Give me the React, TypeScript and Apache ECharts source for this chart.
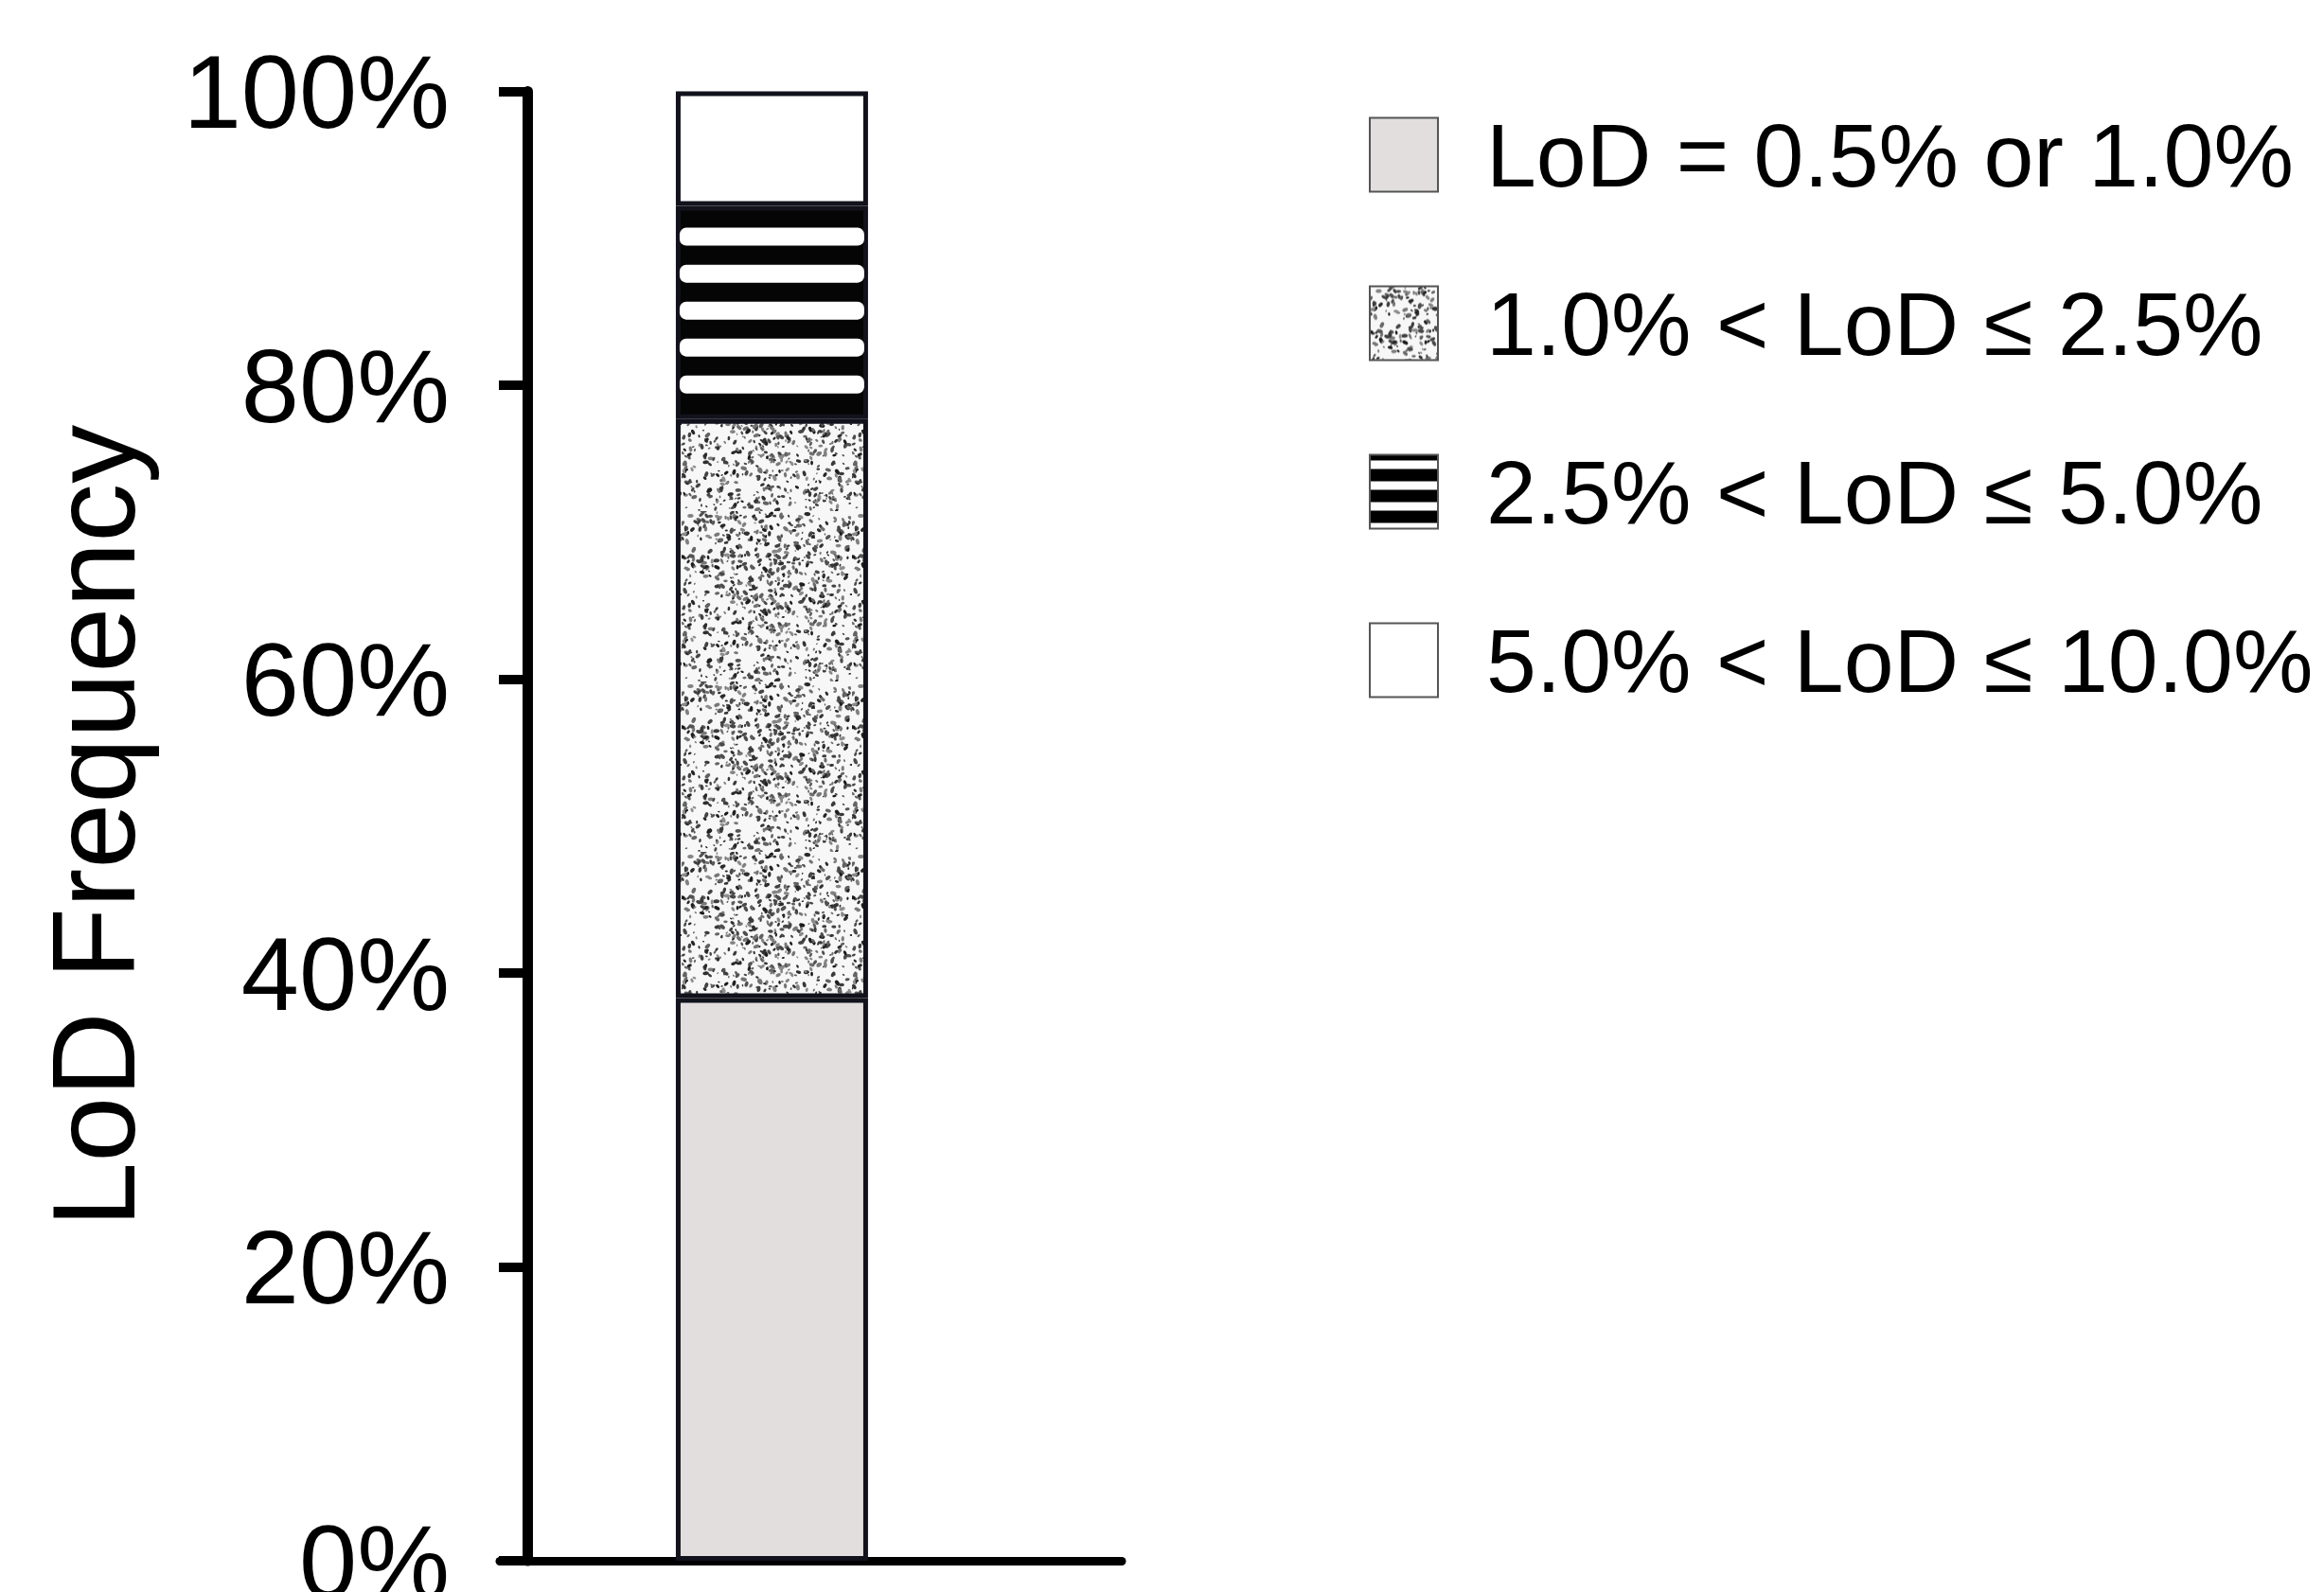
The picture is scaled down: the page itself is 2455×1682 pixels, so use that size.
import React, { useEffect, useRef } from 'react';
import * as echarts from 'echarts';

// ---- data ----
const xSlots = ['s0', 's1', 's2', 'All samples', 's4', 's5', 's6', 's7'];
const barSlot = 3;
const seriesNames = [
  'LoD = 0.5% or 1.0%',
  '1.0% < LoD ≤ 2.5%',
  '2.5% < LoD ≤ 5.0%',
  '5.0% < LoD ≤ 10.0%',
];
const lodShare = [38.3, 39.4, 14.5, 7.8];
const yAxisTitle = 'LoD Frequency';
const yMin = 0;
const yMax = 100;
const yStep = 20;

const FONT = "'Liberation Sans', Arial, Helvetica, sans-serif";
const BAR_W = 203;

function makeSpeckle(): HTMLCanvasElement {
  const size = 180;
  const c = document.createElement('canvas');
  c.width = size;
  c.height = size;
  const ctx = c.getContext('2d')!;
  ctx.fillStyle = '#f7f7f7';
  ctx.fillRect(0, 0, size, size);
  let s = 987654321;
  const rnd = () => {
    s = (Math.imul(s, 1664525) + 1013904223) >>> 0;
    return s / 4294967296;
  };
  for (let i = 0; i < 900; i++) {
    const x = rnd() * size;
    const y = rnd() * size;
    const r = 0.8 + rnd() * 1.6;
    const g = Math.floor(25 + rnd() * 120);
    ctx.fillStyle = `rgb(${g},${g},${g})`;
    ctx.beginPath();
    ctx.ellipse(x, y, r * 1.4, r * 0.85, rnd() * Math.PI, 0, Math.PI * 2);
    ctx.fill();
  }
  return c;
}

function makeStripeIcon(): HTMLCanvasElement {
  const c = document.createElement('canvas');
  c.width = 4;
  c.height = 22;
  const ctx = c.getContext('2d')!;
  ctx.fillStyle = '#000';
  ctx.fillRect(0, 0, 4, 22);
  ctx.fillStyle = '#fff';
  ctx.fillRect(0, 6, 4, 9);
  return c;
}

export default function App() {
  const ref = useRef<HTMLDivElement>(null);

  useEffect(() => {
    document.body.style.margin = '0';
    if (!ref.current) return;
    const chart = echarts.init(ref.current, undefined, { renderer: 'svg' });

    const speckle = { image: makeSpeckle(), repeat: 'repeat' } as any;
    const stripeIcon = { image: makeStripeIcon(), repeat: 'repeat' } as any;

    const fills: any[] = ['#e3dede', speckle, '#050505', '#ffffff'];
    const legendFills: any[] = ['#e3dede', speckle, stripeIcon, '#ffffff'];

    const slotData = (v: number) => xSlots.map((_, i) => (i === barSlot ? v : '-'));

    const barSeries = seriesNames.map((name, i) => ({
      name,
      type: 'bar',
      stack: 'lod',
      barWidth: BAR_W,
      data: slotData(lodShare[i]),
      itemStyle: { color: fills[i], borderColor: '#12121c', borderWidth: 5 },
      emphasis: { disabled: true },
      z: 2,
    }));

    const stripeBase = lodShare[0] + lodShare[1];
    const stripeTop = stripeBase + lodShare[2];

    const stripeOverlay = {
      type: 'custom',
      name: 'stripes',
      z: 3,
      silent: true,
      encode: { x: 0, y: [1, 2] },
      data: [[barSlot, stripeBase, stripeTop]],
      renderItem: (params: any, api: any) => {
        const slot = api.value(0);
        const lo = api.coord([slot, api.value(1)]);
        const hi = api.coord([slot, api.value(2)]);
        const H = lo[1] - hi[1];
        const w = BAR_W - 8;
        const children: any[] = [];
        for (let k = 0; k < 5; k++) {
          const top = hi[1] + (H * (23 + k * 39)) / 225;
          children.push({
            type: 'rect',
            shape: { x: lo[0] - w / 2, y: top, width: w, height: (H * 19) / 225, r: 7 },
            style: { fill: '#ffffff' },
          });
        }
        return { type: 'group', children };
      },
    };

    chart.setOption({
      animation: false,
      backgroundColor: '#ffffff',
      grid: {
        left: 528,
        right: 1270,
        top: 96.5,
        bottom: 33,
        containLabel: false,
        outerBoundsMode: 'none',
      },
      legend: {
        orient: 'vertical',
        left: 1441,
        top: 111,
        itemWidth: 72,
        itemHeight: 78,
        itemGap: 83,
        selectedMode: false,
        icon: 'rect',
        textStyle: {
          fontSize: 95,
          fontFamily: FONT,
          color: '#000',
          lineHeight: 95,
          padding: [0, 0, 0, 46],
        },
        itemStyle: { borderColor: '#555555', borderWidth: 2 },
        data: seriesNames.map((n, i) => ({
          name: n,
          icon: 'rect',
          itemStyle: { color: legendFills[i], borderColor: '#555555', borderWidth: 2 },
        })),
      },
      xAxis: {
        type: 'category',
        data: xSlots,
        axisLine: { show: true, lineStyle: { color: '#000', width: 9 } },
        axisTick: { show: false },
        axisLabel: { show: false },
        splitLine: { show: false },
      },
      yAxis: {
        type: 'value',
        min: yMin,
        max: yMax,
        interval: yStep,
        offset: -29,
        name: yAxisTitle,
        nameLocation: 'middle',
        nameGap: 396,
        nameTextStyle: { fontSize: 124, fontFamily: FONT, color: '#000' },
        axisLine: { show: true, lineStyle: { color: '#000', width: 11 } },
        axisTick: { show: true, length: 30, lineStyle: { color: '#000', width: 10 } },
        axisLabel: {
          formatter: '{value}%',
          fontSize: 110,
          fontFamily: FONT,
          color: '#000',
          margin: 82,
        },
        splitLine: { show: false },
      },
      series: [...barSeries, stripeOverlay],
    });

    return () => chart.dispose();
  }, []);

  return <div ref={ref} style={{ width: 2455, height: 1682 }} />;
}
